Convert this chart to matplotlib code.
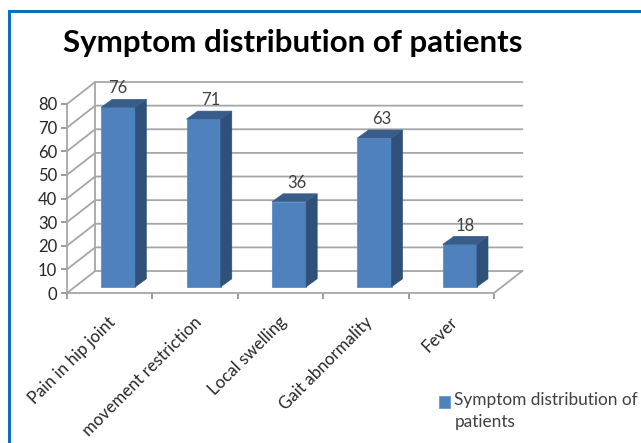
import matplotlib
matplotlib.use('Agg')
import matplotlib.pyplot as plt
from matplotlib.lines import Line2D
from matplotlib.patches import Polygon, Rectangle
from matplotlib.transforms import ScaledTranslation

plt.rcParams['font.family'] = ['Lato', 'DejaVu Sans']

categories = ['Pain in hip joint', 'movement restriction', 'Local swelling',
              'Gait abnormality', 'Fever']
values = [76, 71, 36, 63, 18]
y_ticks = [0, 10, 20, 30, 40, 50, 60, 70, 80]
series_name = 'Symptom distribution of\npatients'

W, H = 641, 443
GRID = '#a6a6a6'
FRONT = '#4f81bd'
SIDE = '#2f5078'
TOP = '#385d8a'
TEXT = '#404040'

# oblique offsets of the fake 3d, in data units
wall_dx, wall_dy = 0.33, 9.3
depth_dx, depth_dy = 0.13, 3.4
base_dx, base_dy = 0.1, 2.6
bar_w = 0.4
label_shift = [-6, 2, 2, 2, 0]  # px, value labels are not quite centred

fig = plt.figure(figsize=(W / 100, H / 100), dpi=100)
ax = fig.add_axes([67 / W, 1 - 293 / H, (494 - 67) / W, (293 - 104) / H])
ax.set_xlim(-0.5, 4.5)
ax.set_ylim(0, 80)
ax.patch.set_visible(False)

# walls and gridlines
for v in y_ticks:
    ax.plot([-0.5, -0.5 + wall_dx, 4.5 + wall_dx], [v, v + wall_dy, v + wall_dy],
            color=GRID, lw=1.3, clip_on=False, zorder=1)
ax.plot([-0.5 + wall_dx] * 2, [wall_dy, 80 + wall_dy], color=GRID, lw=1.3, clip_on=False, zorder=1)
ax.plot([4.5, 4.5 + wall_dx], [0, wall_dy], color=GRID, lw=1.3, clip_on=False, zorder=1)

# bars: front from ax.bar, side and top faces from the same values
xs = [i + base_dx for i in range(len(values))]
ax.bar(xs, values, width=bar_w, bottom=base_dy, color=FRONT, edgecolor='#5b8fcc',
       linewidth=0.6, clip_on=False, zorder=3)
for x, v, shift in zip(xs, values, label_shift):
    l, r = x - bar_w / 2, x + bar_w / 2
    t = v + base_dy
    ax.add_patch(Polygon([(r, base_dy), (r + depth_dx, base_dy + depth_dy),
                          (r + depth_dx, t + depth_dy), (r, t)],
                         facecolor=SIDE, edgecolor=SIDE, lw=0.4, clip_on=False, zorder=3))
    ax.add_patch(Polygon([(l, t), (l + depth_dx, t + depth_dy),
                          (r + depth_dx, t + depth_dy), (r, t)],
                         facecolor=TOP, edgecolor=TOP, lw=0.4, clip_on=False, zorder=3))
    ax.annotate(str(v), (x + depth_dx / 2, t + depth_dy), xytext=(shift * 0.72, 2),
                textcoords='offset points', ha='center', va='bottom', fontsize=12,
                color=TEXT, zorder=4, annotation_clip=False)

# axes
for s in ['top', 'right']:
    ax.spines[s].set_visible(False)
for s in ['left', 'bottom']:
    ax.spines[s].set_color(GRID)
    ax.spines[s].set_linewidth(1.3)
ax.set_yticks(y_ticks)
ax.set_xticks([i - 0.5 for i in range(len(categories) + 1)])
ax.set_xticklabels([])
ax.tick_params(axis='both', which='major', color='#808080', length=4, width=1.1)
ax.tick_params(axis='y', labelsize=12, labelcolor='#262626', pad=3)
ax.set_xticks(list(range(len(categories))), minor=True)
ax.set_xticklabels(categories, minor=True, rotation=45, ha='right', va='top',
                   rotation_mode='anchor', fontsize=12.2, color='#262626')
ax.tick_params(axis='x', which='minor', length=0, pad=15)
nudge = ScaledTranslation(-2 / 100, 0, fig.dpi_scale_trans)
for lab in ax.get_xticklabels(minor=True):
    lab.set_transform(lab.get_transform() + nudge)

handle = Rectangle((0, 0), 1, 1, facecolor=FRONT, edgecolor='#5b8fcc', lw=0.5)
leg = fig.legend([handle], [series_name], loc='upper left', bbox_to_anchor=(439 / W, 1 - 392.5 / H),
                 frameon=False, fontsize=12.4, handlelength=0.65, handleheight=0.65,
                 handletextpad=0.25, labelcolor=TEXT, borderpad=0, borderaxespad=0)
leg.get_texts()[0].set_linespacing(1.42)
# square sits beside the first line, not between the two
leg.legend_handles[0].set_y(leg.legend_handles[0].get_y() + 7)

fig.text(293 / W, 1 - 43 / H, 'Symptom distribution of patients', ha='center', va='center',
         fontsize=22.5, fontweight='bold', color='black')

# blue frame, only top and left edges are in the picture
fig.add_artist(Line2D([9 / W, 9 / W, 1], [0, 1 - 10.5 / H, 1 - 10.5 / H], transform=fig.transFigure,
                      color='#0b6fbe', lw=2.2, solid_joinstyle='miter'))

fig.savefig('out.png', dpi=100)
